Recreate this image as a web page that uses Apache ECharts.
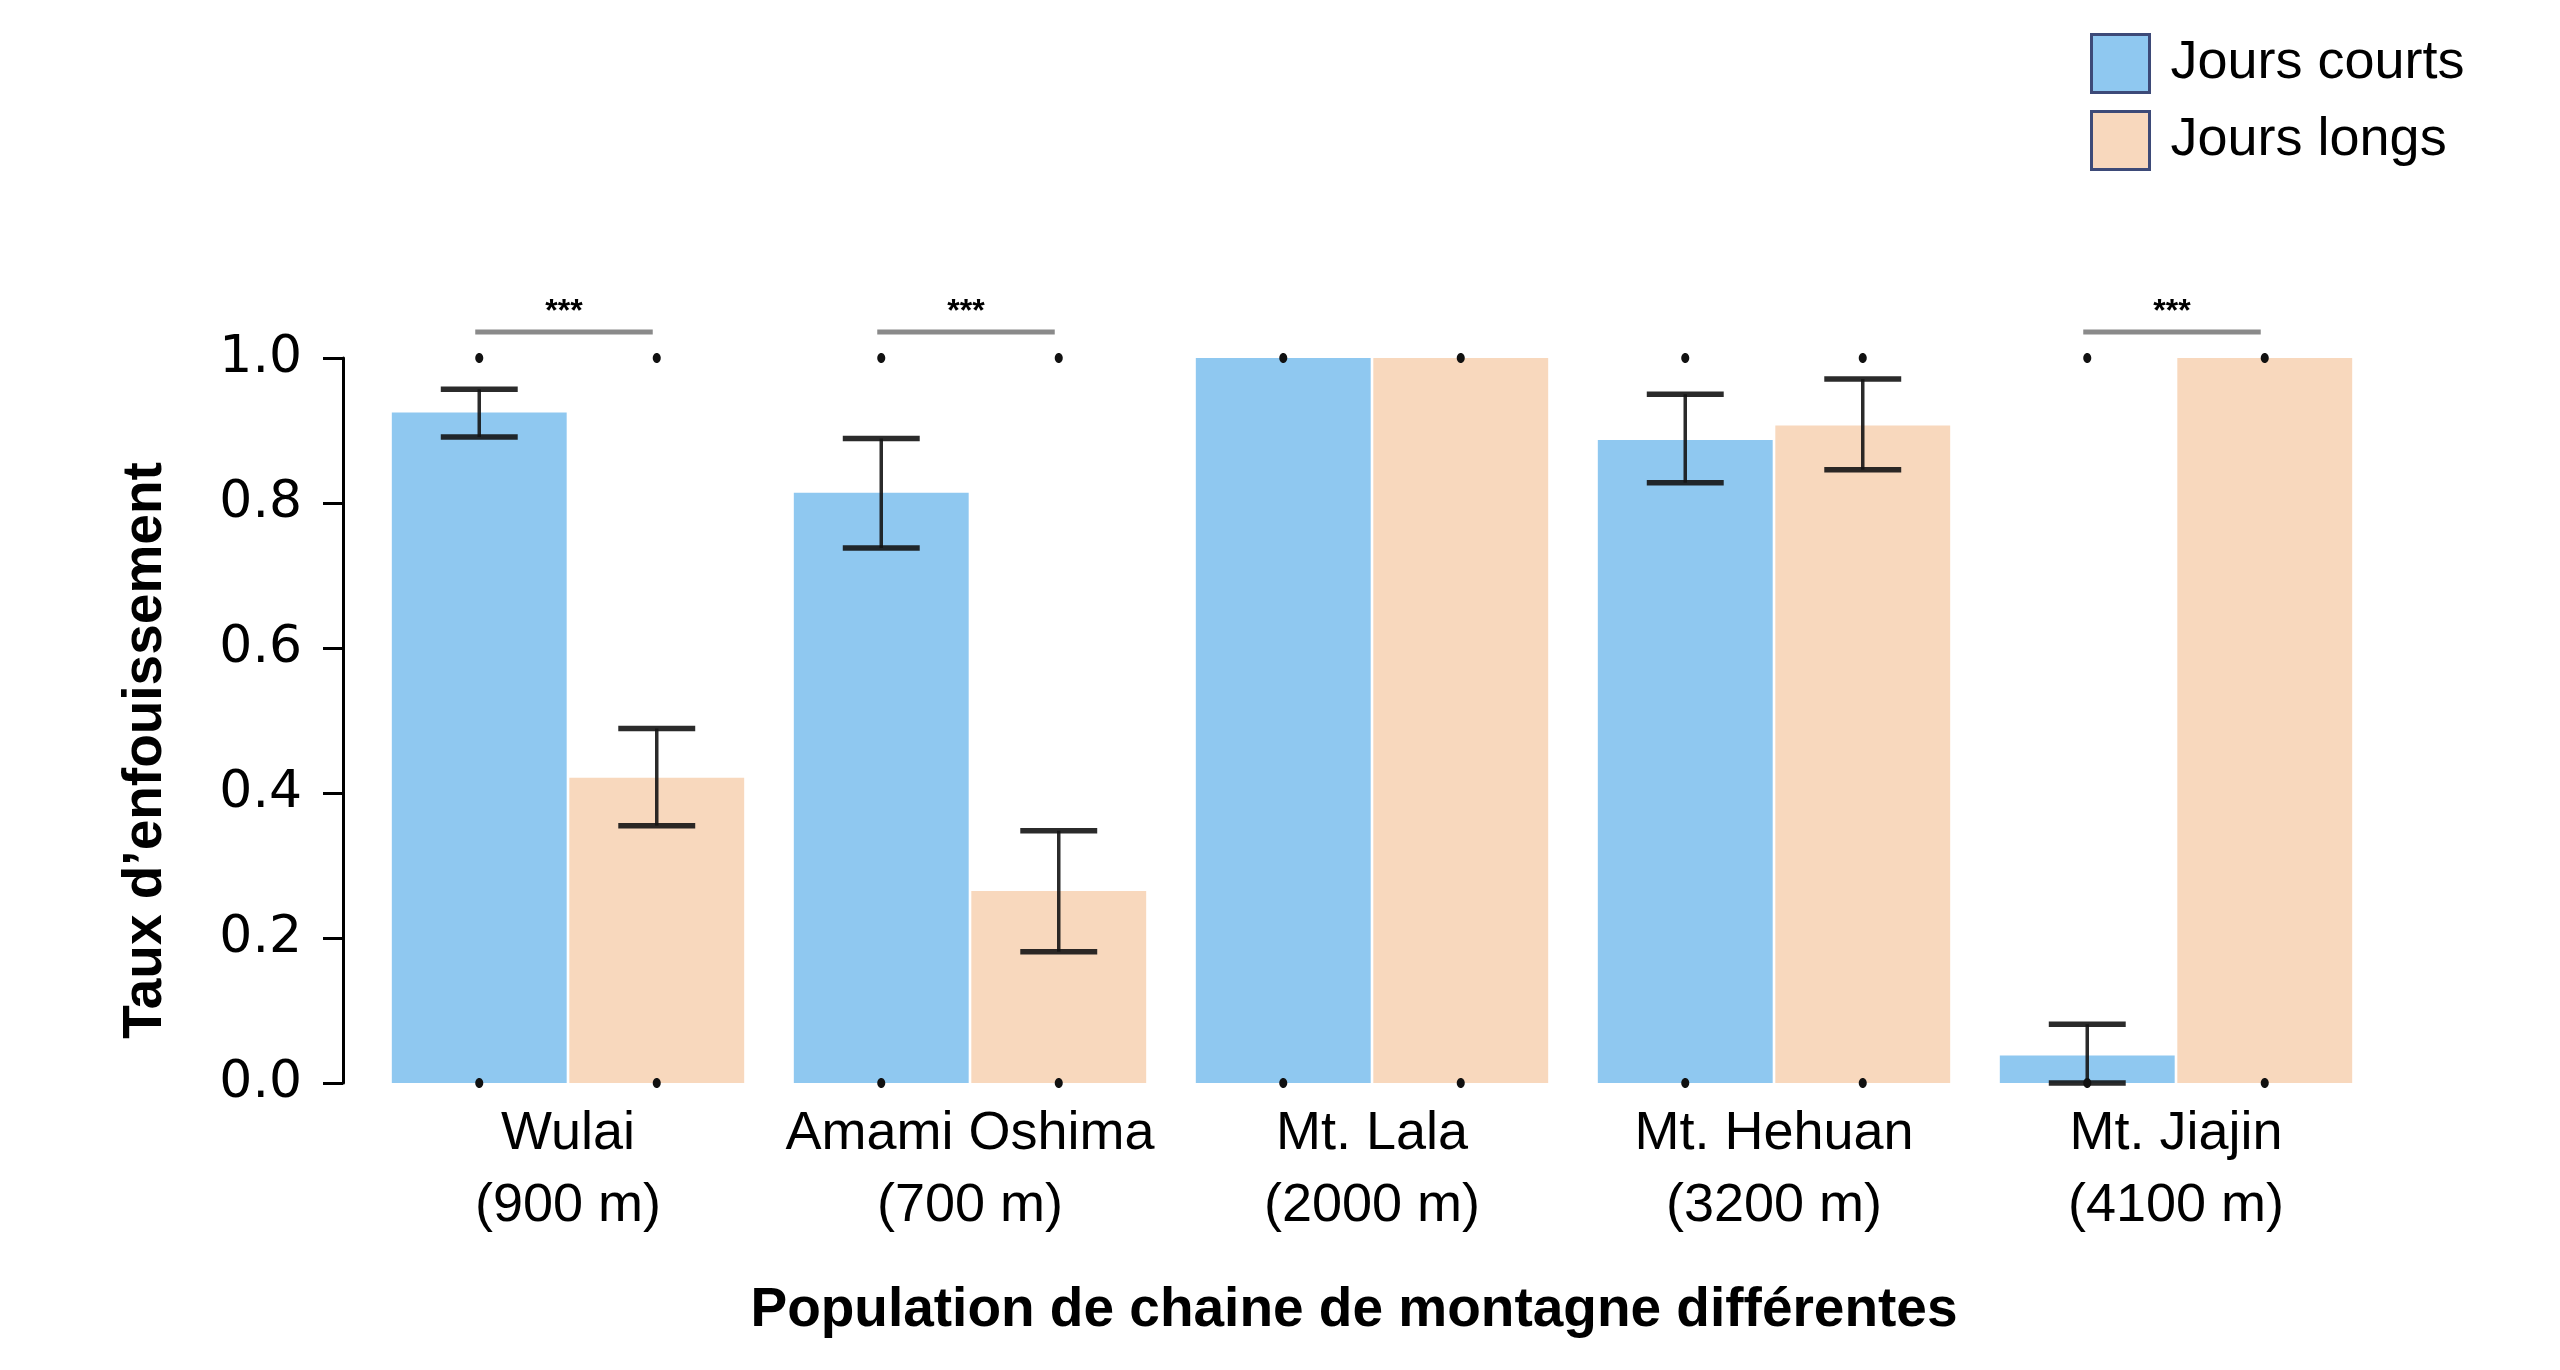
<!DOCTYPE html>
<html>
<head>
<meta charset="utf-8">
<script src="https://cdn.jsdelivr.net/npm/echarts@6/dist/echarts.min.js"></script>
<style>html,body{margin:0;padding:0;background:#fff;}#chart{width:2560px;height:1370px;}</style>
</head>
<body>
<div id="chart"></div>
<script>
// ---- data ----
var categories = ['Wulai\n(900 m)', 'Amami Oshima\n(700 m)', 'Mt. Lala\n(2000 m)', 'Mt. Hehuan\n(3200 m)', 'Mt. Jiajin\n(4100 m)'];
var seriesNames = ['Jours courts', 'Jours longs'];
var shortDays = [0.925, 0.814, 1.0, 0.887, 0.038];
var longDays = [0.421, 0.265, 1.0, 0.907, 1.0];
// error bars [low, high] (null = none)
var shortErr = [[0.891, 0.957], [0.738, 0.889], null, [0.828, 0.950], [0.0, 0.081]];
var longErr = [[0.355, 0.489], [0.181, 0.348], null, [0.846, 0.971], null];
// raw observation points (binary outcomes)
var rawPointValues = [0, 1];
// significance brackets: category index, level
var sigCategories = [0, 1, 4];
var sigLevel = 1.036;
var sigLabel = '***';
var yTicks = [0, 0.2, 0.4, 0.6, 0.8, 1.0];

var BAR_W = 0.435, BAR_GAP = 0.015;
var FONT = "'Liberation Sans', Arial, Helvetica, sans-serif";

function barCenter(api, cat, side) {
  var band = api.size([1, 0])[0];
  var w = band * BAR_W;
  var g = w * BAR_GAP;
  return api.coord([cat, 0])[0] + side * (w + g) / 2;
}

var errData = [];
shortErr.forEach(function (e, i) { if (e) errData.push([i, e[0], e[1], -1]); });
longErr.forEach(function (e, i) { if (e) errData.push([i, e[0], e[1], 1]); });

var dotData = [];
categories.forEach(function (c, i) {
  rawPointValues.forEach(function (v) {
    dotData.push([i, v, -1]);
    dotData.push([i, v, 1]);
  });
});

var sigData = sigCategories.map(function (i) { return [i, sigLevel]; });

var chart = echarts.init(document.getElementById('chart'));
chart.setOption({
  backgroundColor: '#ffffff',
  animation: false,
  legend: {
    orient: 'vertical',
    left: 2085,
    top: 28,
    itemWidth: 58,
    itemHeight: 58,
    itemGap: 16,
    icon: 'rect',
    data: seriesNames,
    itemStyle: { borderColor: '#3d4a78', borderWidth: 3 },
    textStyle: { fontSize: 54, color: '#000', fontFamily: FONT, padding: [0, 0, 0, 16] }
  },
  grid: { left: 367, right: 183, top: 358, bottom: 287 },
  xAxis: {
    type: 'category',
    data: categories,
    axisLine: { show: false },
    axisTick: { show: false },
    axisLabel: { interval: 0, fontSize: 54, color: '#000', fontFamily: FONT, lineHeight: 72, margin: 15 },
    name: 'Population de chaine de montagne différentes',
    nameLocation: 'middle',
    nameGap: 200,
    nameTextStyle: { fontSize: 55, fontWeight: 'bold', color: '#000', fontFamily: FONT, padding: [0, 36, 0, 0] }
  },
  yAxis: {
    type: 'value',
    min: 0, max: 1, interval: 0.2,
    offset: 24,
    axisLine: { show: true, lineStyle: { color: '#000', width: 3 } },
    axisTick: { show: true, length: 20, lineStyle: { color: '#000', width: 3 } },
    splitLine: { show: false },
    axisLabel: { fontSize: 52, color: '#000', fontFamily: "'DejaVu Sans', sans-serif", margin: 41, formatter: function (v) { return v.toFixed(1); } },
    name: "Taux d’enfouissement",
    nameLocation: 'middle',
    nameGap: 170,
    nameTextStyle: { fontSize: 55, fontWeight: 'bold', color: '#000', fontFamily: FONT, padding: [0, 60, 0, 0] }
  },
  series: [
    {
      name: seriesNames[0], type: 'bar', data: shortDays,
      barWidth: (BAR_W * 100) + '%', barGap: (BAR_GAP * 100) + '%',
      itemStyle: { color: '#8fc8f0' }
    },
    {
      name: seriesNames[1], type: 'bar', data: longDays,
      barWidth: (BAR_W * 100) + '%', barGap: (BAR_GAP * 100) + '%',
      itemStyle: { color: '#f8d8bd' }
    },
    {
      type: 'custom', data: errData, clip: false, z: 5,
      renderItem: function (params, api) {
        var cat = api.value(0), lo = api.value(1), hi = api.value(2), side = api.value(3);
        var cx = barCenter(api, cat, side);
        var band = api.size([1, 0])[0];
        var cap = band * BAR_W * 0.44 / 2;
        var yl = api.coord([cat, lo])[1], yh = api.coord([cat, hi])[1];
        var st = { stroke: 'rgba(20,20,20,0.9)', lineWidth: 3.5 };
        var cs = { stroke: 'rgba(20,20,20,0.9)', lineWidth: 5.5 };
        return { type: 'group', children: [
          { type: 'line', shape: { x1: cx, y1: yl, x2: cx, y2: yh }, style: st },
          { type: 'line', shape: { x1: cx - cap, y1: yl, x2: cx + cap, y2: yl }, style: cs },
          { type: 'line', shape: { x1: cx - cap, y1: yh, x2: cx + cap, y2: yh }, style: cs }
        ] };
      }
    },
    {
      type: 'custom', data: dotData, clip: false, z: 6,
      renderItem: function (params, api) {
        var cat = api.value(0), v = api.value(1), side = api.value(2);
        var cx = barCenter(api, cat, side);
        var cy = api.coord([cat, v])[1];
        return { type: 'ellipse', shape: { cx: cx, cy: cy, rx: 4, ry: 5 }, style: { fill: '#111' } };
      }
    },
    {
      type: 'custom', data: sigData, clip: false, z: 6,
      renderItem: function (params, api) {
        var cat = api.value(0), v = api.value(1);
        var x1 = barCenter(api, cat, -1) - 4, x2 = barCenter(api, cat, 1) - 4;
        var y = api.coord([cat, v])[1];
        return { type: 'group', children: [
          { type: 'line', shape: { x1: x1, y1: y, x2: x2, y2: y }, style: { stroke: '#8a8a8a', lineWidth: 5 } },
          { type: 'text', x: (x1 + x2) / 2, y: y - 4, style: { text: sigLabel, fill: '#000', font: 'bold 32px ' + FONT, textAlign: 'center', textVerticalAlign: 'bottom' } }
        ] };
      }
    }
  ]
});
</script>
</body>
</html>
